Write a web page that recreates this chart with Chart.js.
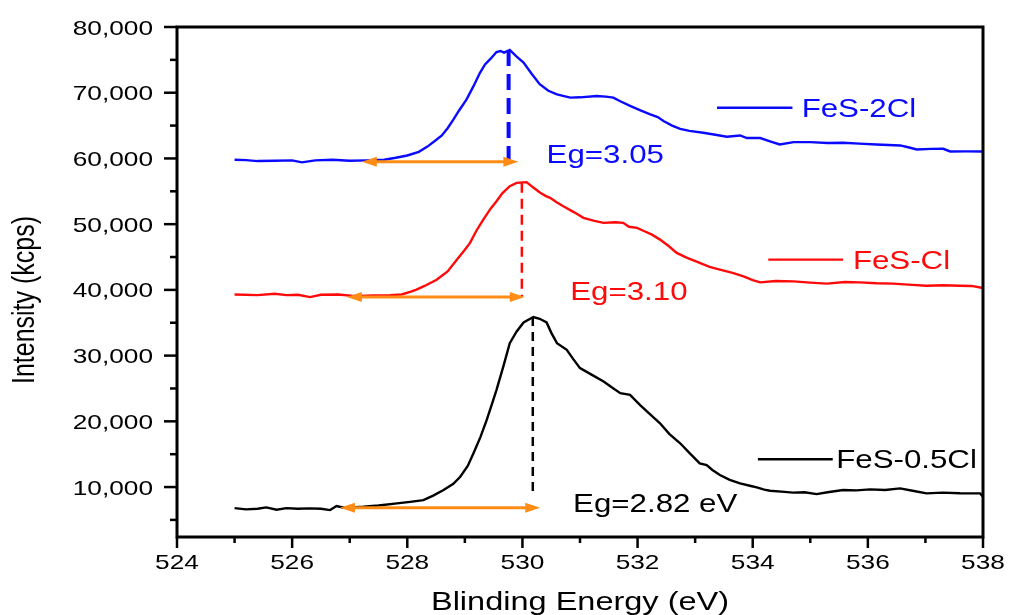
<!DOCTYPE html>
<html>
<head>
<meta charset="utf-8">
<script src="https://cdn.jsdelivr.net/npm/chart.js@4/dist/chart.umd.min.js"></script>
<style>
  html, body { margin: 0; padding: 0; background: #fff; }
  #wrap { width: 1010px; height: 615px; position: relative; }
</style>
</head>
<body>
<div id="wrap"><canvas id="xps-chart"></canvas></div>
<script>
// Binding energy (eV) / intensity.
var x2Cl = [ 525.0, 525.2, 525.4, 525.7, 526.0, 526.17, 526.4, 526.7, 527.0, 527.3, 527.6, 527.8, 528.0, 528.2, 528.35, 528.5, 528.6, 528.7, 528.8, 528.9, 529.03, 529.15, 529.26, 529.35, 529.44, 529.55, 529.62, 529.68, 529.78, 529.9, 530.02, 530.15, 530.3, 530.45, 530.6, 530.83, 531.0, 531.29, 531.45, 531.58, 531.7, 531.87, 532.05, 532.22, 532.35, 532.45, 532.6, 532.74, 532.9, 533.14, 533.35, 533.55, 533.78, 533.9, 534.13, 534.3, 534.47, 534.71, 535.0, 535.3, 535.57, 535.85, 536.15, 536.56, 536.7, 536.85, 537.1, 537.31, 537.43, 537.7, 538.0 ];
var y2Cl = [ 59800, 59750, 59600, 59650, 59700, 59400, 59700, 59800, 59650, 59700, 59800, 60100, 60450, 61000, 61800, 62800, 63500, 64600, 65900, 67300, 69000, 71000, 73000, 74300, 75100, 76200, 76350, 76100, 76500, 75500, 74600, 73000, 71300, 70300, 69750, 69250, 69300, 69500, 69400, 69250, 68700, 68000, 67300, 66700, 66300, 65700, 65000, 64500, 64200, 63900, 63600, 63300, 63500, 63100, 63100, 62600, 62130, 62480, 62480, 62350, 62380, 62250, 62130, 61980, 61700, 61370, 61450, 61470, 61060, 61080, 61060 ];

var x1Cl = [ 525.0, 525.4, 525.7, 525.9, 526.1, 526.31, 526.5, 526.8, 527.1, 527.4, 527.7, 527.9, 528.05, 528.16, 528.3, 528.51, 528.7, 528.86, 529.0, 529.09, 529.2, 529.32, 529.45, 529.55, 529.65, 529.78, 529.9, 530.07, 530.2, 530.31, 530.4, 530.48, 530.6, 530.71, 530.9, 531.06, 531.25, 531.41, 531.6, 531.75, 531.85, 531.99, 532.1, 532.25, 532.39, 532.55, 532.68, 532.85, 533.08, 533.25, 533.43, 533.65, 533.84, 534.0, 534.13, 534.4, 534.71, 535.0, 535.29, 535.6, 535.86, 536.15, 536.44, 536.7, 537.02, 537.3, 537.6, 537.8, 538.0 ];
var y1Cl = [ 39300, 39200, 39400, 39200, 39250, 38900, 39250, 39300, 39050, 39150, 39200, 39300, 39700, 40030, 40600, 41550, 42800, 44600, 46100, 47150, 49000, 50700, 52400, 53490, 54700, 55780, 56290, 56390, 55500, 54770, 54300, 54010, 53300, 52730, 51800, 50960, 50500, 50200, 50300, 50200, 49600, 49430, 49000, 48400, 47650, 46600, 45630, 44900, 44100, 43500, 43080, 42600, 42060, 41500, 41150, 41350, 41300, 41100, 40950, 41200, 41150, 41000, 40950, 40800, 40640, 40700, 40640, 40600, 40290 ];

var x05Cl = [ 525.0, 525.2, 525.4, 525.55, 525.73, 525.9, 526.1, 526.3, 526.5, 526.66, 526.77, 526.9, 527.1, 527.24, 527.5, 527.82, 528.05, 528.28, 528.45, 528.63, 528.8, 528.92, 529.05, 529.15, 529.27, 529.38, 529.47, 529.55, 529.67, 529.78, 529.9, 530.02, 530.19, 530.3, 530.42, 530.5, 530.6, 530.77, 530.88, 531.0, 531.2, 531.41, 531.55, 531.7, 531.87, 532.04, 532.2, 532.39, 532.55, 532.74, 532.9, 533.08, 533.2, 533.3, 533.43, 533.6, 533.78, 533.95, 534.07, 534.2, 534.3, 534.5, 534.7, 534.9, 535.11, 535.3, 535.57, 535.8, 536.04, 536.3, 536.56, 536.8, 537.02, 537.3, 537.6, 537.95, 538.0 ];
var y05Cl = [ 6800, 6600, 6700, 6900, 6550, 6800, 6700, 6750, 6700, 6490, 7100, 6850, 6950, 7000, 7200, 7510, 7750, 8020, 8700, 9540, 10500, 11570, 13200, 15140, 17600, 20210, 22600, 24790, 28400, 31900, 33670, 35050, 35870, 35600, 35050, 33500, 31900, 30880, 29500, 28090, 27100, 26050, 25200, 24280, 24020, 22500, 21200, 19710, 18100, 16660, 15200, 13610, 13350, 12600, 11830, 11100, 10560, 10200, 9950, 9600, 9440, 9300, 9150, 9200, 8930, 9200, 9540, 9500, 9650, 9550, 9800, 9400, 9040, 9150, 9050, 9040, 8520 ];

var seriesNames = [ 'FeS-2Cl', 'FeS-Cl', 'FeS-0.5Cl' ];

// Axis ticks (major ones get labels).
var xTicks = [ 524, 525, 526, 527, 528, 529, 530, 531, 532, 533, 534, 535, 536, 537, 538 ];
var yTicks = [ 5000, 10000, 15000, 20000, 25000, 30000, 35000, 40000, 45000, 50000, 55000, 60000, 65000, 70000, 75000, 80000 ];

// Band-gap markers: dashed drop line, orange double arrow, label.
var egX      = [ 529.76, 529.99, 530.18 ];
var egTop    = [ 76500, 56300, 35870 ];
var egBottom = [ 59700, 38960, 8780 ];
var egText   = [ 'Eg=3.05', 'Eg=3.10', 'Eg=2.82 eV' ];
var arrowFrom = [ 527.21, 526.95, 526.83 ];
var arrowTo   = [ 529.93, 530.04, 530.31 ];
var arrowY    = [ 59500, 38910, 6850 ];

var xTitle = 'Blinding Energy (eV)';
var yTitle = 'Intensity (kcps)';

document.addEventListener( 'DOMContentLoaded', function () {
	'use strict';

	var colors = [ '#0a0aff', '#ff0a0a', '#000000' ];
	var FONT = '"Liberation Sans", Arial, sans-serif';
	var STRETCH = 1.25; // the figure's text is drawn wide

	function pts( xs, ys ) {
		return xs.map( function ( v, i ) { return { x: v, y: ys[ i ] }; } );
	}

	var datasets = [
		{ data: pts( x2Cl, y2Cl ), borderColor: colors[ 0 ], borderWidth: 2.4 },
		{ data: pts( x1Cl, y1Cl ), borderColor: colors[ 1 ], borderWidth: 2.4 },
		{ data: pts( x05Cl, y05Cl ), borderColor: colors[ 2 ], borderWidth: 2.4 }
	];
	var dashStyles = [ { w: 4, d: [ 16, 8 ] }, { w: 2.5, d: [ 10, 6 ] }, { w: 2.5, d: [ 9, 6 ] } ];
	egX.forEach( function ( v, i ) {
		datasets.push( {
			data: [ { x: v, y: egTop[ i ] }, { x: v, y: egBottom[ i ] } ],
			borderColor: colors[ i ],
			borderWidth: dashStyles[ i ].w,
			borderDash: dashStyles[ i ].d
		} );
	} );

	// Label positions in data units.
	var egLabelPos = [ [ 530.42, 59380 ], [ 530.83, 38390 ], [ 530.88, 6240 ] ];
	var legendPos = [
		{ x1: 533.38, x2: 534.69, y: 67710, tx: 534.85 },
		{ x1: 534.27, x2: 535.57, y: 44600, tx: 535.74 },
		{ x1: 534.09, x2: 535.39, y: 14220, tx: 535.45 }
	];

	function wideText( ctx, txt, x, y, align ) {
		ctx.save();
		ctx.translate( x, y );
		ctx.scale( STRETCH, 1 );
		ctx.textAlign = align || 'left';
		ctx.textBaseline = 'alphabetic';
		ctx.fillText( txt, 0, 0 );
		ctx.restore();
	}

	function arrowHead( ctx, x, y, dir ) {
		ctx.beginPath();
		ctx.moveTo( x, y );
		ctx.lineTo( x - dir * 15, y - 5 );
		ctx.lineTo( x - dir * 15, y + 5 );
		ctx.closePath();
		ctx.fill();
	}

	function useTicks( list ) {
		return function ( scale ) {
			scale.ticks = list.map( function ( v ) { return { value: v }; } );
		};
	}

	var decor = {
		id: 'decor',
		afterDraw: function ( chart ) {
			var ctx = chart.ctx;
			var a = chart.chartArea;
			var xs = chart.scales.x;
			var ys = chart.scales.y;
			ctx.save();

			// Orange double arrows.
			ctx.strokeStyle = '#ff8c14';
			ctx.fillStyle = '#ff8c14';
			ctx.lineWidth = 3;
			arrowY.forEach( function ( v, i ) {
				var py = ys.getPixelForValue( v );
				var p1 = xs.getPixelForValue( arrowFrom[ i ] );
				var p2 = xs.getPixelForValue( arrowTo[ i ] );
				ctx.beginPath();
				ctx.moveTo( p1 + 8, py );
				ctx.lineTo( p2 - 8, py );
				ctx.stroke();
				arrowHead( ctx, p1, py, -1 );
				arrowHead( ctx, p2, py, 1 );
			} );

			// Eg labels and in-plot legend.
			ctx.font = '25px ' + FONT;
			egText.forEach( function ( t, i ) {
				ctx.fillStyle = colors[ i ];
				wideText( ctx, t, xs.getPixelForValue( egLabelPos[ i ][ 0 ] ), ys.getPixelForValue( egLabelPos[ i ][ 1 ] ) );
			} );
			seriesNames.forEach( function ( name, i ) {
				var lp = legendPos[ i ];
				var py = ys.getPixelForValue( lp.y );
				ctx.strokeStyle = colors[ i ];
				ctx.lineWidth = 2.4;
				ctx.beginPath();
				ctx.moveTo( xs.getPixelForValue( lp.x1 ), py );
				ctx.lineTo( xs.getPixelForValue( lp.x2 ), py );
				ctx.stroke();
				ctx.fillStyle = colors[ i ];
				wideText( ctx, name, xs.getPixelForValue( lp.tx ), py + 9 );
			} );

			// Frame.
			ctx.strokeStyle = '#000';
			ctx.lineWidth = 3;
			ctx.strokeRect( a.left, a.top, a.right - a.left, a.bottom - a.top );

			// Ticks and tick labels.
			ctx.fillStyle = '#000';
			ctx.lineWidth = 2.5;
			ctx.font = '21px ' + FONT;
			xs.ticks.forEach( function ( t ) {
				var px = xs.getPixelForValue( t.value );
				var major = t.value % 2 === 0;
				ctx.beginPath();
				ctx.moveTo( px, a.bottom );
				ctx.lineTo( px, a.bottom + ( major ? 11 : 6 ) );
				ctx.stroke();
				if ( major ) {
					wideText( ctx, String( t.value ), px, a.bottom + 32, 'center' );
				}
			} );
			ys.ticks.forEach( function ( t ) {
				var py = ys.getPixelForValue( t.value );
				var major = t.value % 10000 === 0;
				ctx.beginPath();
				ctx.moveTo( a.left - ( major ? 13 : 7 ), py );
				ctx.lineTo( a.left, py );
				ctx.stroke();
				if ( major ) {
					wideText( ctx, t.value.toLocaleString( 'en-US' ), a.left - 24, py + 7.5, 'right' );
				}
			} );

			// Axis titles.
			ctx.font = '26px ' + FONT;
			wideText( ctx, xTitle, ( a.left + a.right ) / 2, 610, 'center' );
			ctx.font = '25px ' + FONT;
			ctx.save();
			ctx.translate( 34, 300 );
			ctx.rotate( -Math.PI / 2 );
			ctx.scale( 1, STRETCH );
			ctx.textAlign = 'center';
			ctx.textBaseline = 'alphabetic';
			ctx.fillText( yTitle, 0, 0 );
			ctx.restore();

			ctx.restore();
		}
	};

	new Chart( document.getElementById( 'xps-chart' ).getContext( '2d' ), {
		type: 'line',
		data: { datasets: datasets },
		options: {
			responsive: true,
			maintainAspectRatio: false,
			animation: false,
			layout: { padding: { left: 177, right: 27, top: 27, bottom: 78 } },
			elements: {
				point: { radius: 0, hoverRadius: 0 },
				line: { tension: 0, fill: false }
			},
			scales: {
				x: {
					type: 'linear', min: 524, max: 538, display: false,
					afterBuildTicks: useTicks( xTicks )
				},
				y: {
					type: 'linear', min: 2400, max: 80000, display: false,
					afterBuildTicks: useTicks( yTicks )
				}
			},
			plugins: {
				legend: { display: false },
				tooltip: { enabled: false }
			}
		},
		plugins: [ decor ]
	} );
} );
</script>
</body>
</html>
